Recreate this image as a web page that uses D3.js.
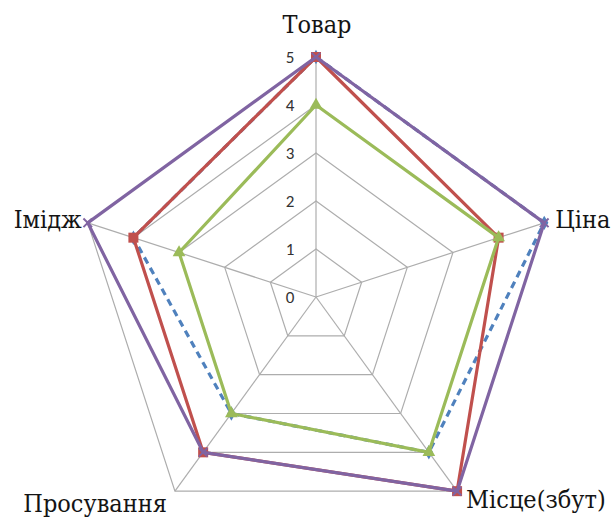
<!DOCTYPE html>
<html>
<head>
<meta charset="utf-8">
<script src="https://cdn.jsdelivr.net/npm/d3@7"></script>
<style>
  html, body { margin: 0; padding: 0; background: #fff; }
  svg { display: block; }
  .cat { font-family: "DejaVu Serif", serif; font-stretch: condensed; }
  .tick { font-family: Carlito, Calibri, "Liberation Sans", Arial, sans-serif; }
</style>
</head>
<body>
<svg id="chart" width="613" height="518"></svg>
<script>
// Marketing-mix radar: five elements rated on a 0–5 scale
const categories = ["Товар", "Ціна", "Місце(збут)", "Просування", "Імідж"];
const tickValues = [0, 1, 2, 3, 4, 5];

const seriesBlue   = [5, 5, 4, 3, 4];
const seriesRed    = [5, 4, 5, 4, 4];
const seriesGreen  = [4, 4, 4, 3, 3];
const seriesPurple = [5, 5, 5, 4, 5];

const series = [
  { values: seriesBlue,   color: "#4F81BD", dash: "7,5", marker: "diamond" },
  { values: seriesRed,    color: "#C0504D", dash: null,  marker: "square" },
  { values: seriesGreen,  color: "#9BBB59", dash: null,  marker: "triangle" },
  { values: seriesPurple, color: "#8064A2", dash: null,  marker: "cross" }
];

const svg = d3.select("#chart");
const cx = 316, cy = 297, R = 240;

const r = d3.scaleLinear().domain([0, 5]).range([0, R]);
const angle = d3.scalePoint().domain(d3.range(categories.length))
  .range([0, 2 * Math.PI * (categories.length - 1) / categories.length]);

const pt = (i, v) => {
  const a = angle(i);
  return [cx + r(v) * Math.sin(a), cy - r(v) * Math.cos(a)];
};

const g = svg.append("g");

// concentric grid pentagons
tickValues.filter(t => t > 0).forEach(t => {
  g.append("polygon")
    .attr("points", categories.map((c, i) => pt(i, t).join(",")).join(" "))
    .attr("fill", "none")
    .attr("stroke", "#ADADAD")
    .attr("stroke-width", 1.2);
});

// spokes
categories.forEach((c, i) => {
  const [x, y] = pt(i, 5);
  g.append("line")
    .attr("x1", cx).attr("y1", cy).attr("x2", x).attr("y2", y)
    .attr("stroke", "#ADADAD").attr("stroke-width", 1.2);
});

// radial tick labels along the first spoke
g.selectAll("text.tick").data(tickValues).join("text")
  .attr("class", "tick")
  .attr("x", cx - 26)
  .attr("y", d => cy - r(d) + 6)
  .attr("text-anchor", "middle")
  .attr("font-size", 17)
  .attr("fill", "#333")
  .text(d => d);

// series lines
const line = d3.line().curve(d3.curveLinearClosed);
series.forEach(s => {
  const pts = s.values.map((v, i) => pt(i, v));
  g.append("path")
    .attr("d", line(pts))
    .attr("fill", "none")
    .attr("stroke", s.color)
    .attr("stroke-width", 3.2)
    .attr("stroke-dasharray", s.dash)
    .attr("stroke-linejoin", "round");

  pts.forEach(([x, y]) => {
    if (s.marker === "square") {
      g.append("rect").attr("x", x - 5).attr("y", y - 5).attr("width", 10).attr("height", 10)
        .attr("fill", s.color);
    } else if (s.marker === "triangle") {
      g.append("path").attr("d", d3.symbol(d3.symbolTriangle, 70)())
        .attr("transform", `translate(${x},${y})`).attr("fill", s.color);
    } else if (s.marker === "diamond") {
      g.append("path").attr("d", d3.symbol(d3.symbolDiamond, 60)())
        .attr("transform", `translate(${x},${y})`).attr("fill", s.color);
    } else {
      g.append("path").attr("d", d3.symbol(d3.symbolTimes, 50)())
        .attr("transform", `translate(${x},${y})`)
        .attr("fill", "none").attr("stroke", s.color).attr("stroke-width", 2);
    }
  });
});

// category labels
const labelPos = [
  { dx: 1,   dy: -24, anchor: "middle" },
  { dx: 11,  dy: 5,   anchor: "start" },
  { dx: 9,   dy: 17,  anchor: "start" },
  { dx: -8,  dy: 21,  anchor: "end" },
  { dx: -6,  dy: 5,   anchor: "end" }
];
g.selectAll("text.cat").data(categories).join("text")
  .attr("class", "cat")
  .attr("x", (d, i) => pt(i, 5)[0] + labelPos[i].dx)
  .attr("y", (d, i) => pt(i, 5)[1] + labelPos[i].dy)
  .attr("text-anchor", (d, i) => labelPos[i].anchor)
  .attr("font-size", 25)
  .attr("fill", "#141414")
  .text(d => d);
</script>
</body>
</html>
